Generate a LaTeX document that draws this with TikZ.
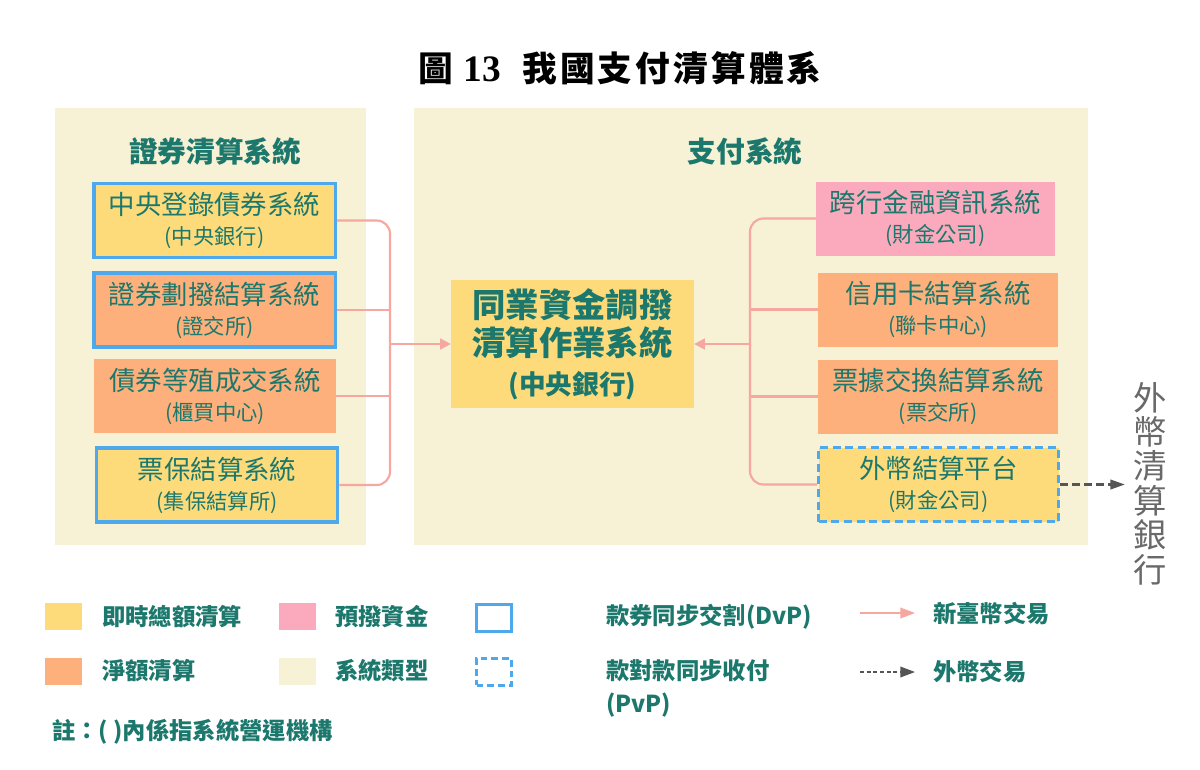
\documentclass[tikz,border=0pt]{standalone}
\usepackage{fontspec}
\usetikzlibrary{arrows.meta}
\newfontfamily\cjk{Noto Sans CJK TC}
\newfontfamily\cjkt{Noto Sans CJK TC}[LetterSpace=9]
\newfontfamily\sernum{Liberation Serif}
\definecolor{panelbg}{RGB}{247,241,213}
\definecolor{yel}{RGB}{253,219,123}
\definecolor{ora}{RGB}{253,176,123}
\definecolor{pnk}{RGB}{250,170,188}
\definecolor{blu}{RGB}{78,169,236}
\definecolor{tealtxt}{RGB}{28,120,108}
\definecolor{connc}{RGB}{246,168,160}
\definecolor{grc}{RGB}{85,85,85}
\definecolor{fxgray}{RGB}{105,105,105}
\newcommand\subline[1]{{\fontsize{16}{22.5}\selectfont #1}}
\tikzset{
  panel/.style={fill=panelbg, draw=none},
  ptitle/.style={text=tealtxt, font=\cjk\bfseries\fontsize{21.5}{24}\selectfont, inner sep=0},
  sysbox/.style={minimum width=181pt, minimum height=55.5pt, inner sep=0, align=center,
     text=tealtxt, font=\cjk\fontsize{19.8}{22.5}\selectfont},
  dvp/.style={draw=blu, line width=2.5pt},
  pvp/.style={draw=blu, line width=2.5pt, dash pattern=on 6pt off 3.5pt},
  conn/.style={draw=connc, line width=1.6pt},
  connarrow/.style={conn, -{Triangle[length=8pt,width=8pt]}},
  fxarrow/.style={draw=grc, line width=2pt, dash pattern=on 5.5pt off 3.5pt, -{Triangle[length=11pt,width=7pt]}},
  legsq/.style={minimum width=27.75pt, minimum height=20.25pt, inner sep=0},
  legtxt/.style={anchor=west, text=tealtxt, font=\cjk\bfseries\fontsize{17.5}{24.75}\selectfont, inner sep=0, align=left},
}
\begin{document}
\begin{tikzpicture}[x=0.75pt,y=-0.75pt]
\useasboundingbox (0,0) rectangle (1200,769);
% title
\node[inner sep=0] (title) at (620,68) {{\cjk\bfseries\fontsize{26}{30}\selectfont 圖}\hspace{8pt}{\sernum\bfseries\fontsize{28}{30}\selectfont 13}\hspace{16pt}{\cjkt\bfseries\fontsize{26}{30}\selectfont 我國支付清算體系}};
% panels
\fill[panel] (55,108) rectangle (366,545);
\fill[panel] (414,108) rectangle (1088,545);
\node[ptitle] (lt) at (215,152) {證券清算系統};
\node[ptitle] (rt) at (745,152) {支付系統};
% left boxes
\node[sysbox, fill=yel, dvp] (b1) at (214.5,220.5) {中央登錄債券系統\\\subline{(中央銀行)}};
\node[sysbox, fill=ora, dvp] (b2) at (214.5,310) {證券劃撥結算系統\\\subline{(證交所)}};
\node[sysbox, fill=ora] (b3) at (215,396) {債券等殖成交系統\\\subline{(櫃買中心)}};
\node[sysbox, fill=yel, dvp] (b4) at (217,485) {票保結算系統\\\subline{(集保結算所)}};
% central box
\node[minimum width=182pt, minimum height=96pt, inner sep=0, fill=yel, align=center, text=tealtxt,
  font=\cjk\bfseries\fontsize{25}{29}\selectfont] (cb) at (572.5,344)
  {同業資金調撥\\清算作業系統\\{\fontsize{20}{29}\selectfont (中央銀行)}};
% right boxes
\node[sysbox, fill=pnk, minimum width=179pt] (r1) at (935.5,218.5) {跨行金融資訊系統\\\subline{(財金公司)}};
\node[sysbox, fill=ora, minimum width=180pt] (r2) at (938,309.5) {信用卡結算系統\\\subline{(聯卡中心)}};
\node[sysbox, fill=ora, minimum width=180pt] (r3) at (938,396.5) {票據交換結算系統\\\subline{(票交所)}};
\node[sysbox, fill=yel, pvp, minimum width=180pt] (r4) at (938.5,484.5) {外幣結算平台\\\subline{(財金公司)}};
% bus coordinates
\coordinate (lx) at (390,344);
\coordinate (rx) at (750,344);
% left connectors
\draw[conn, rounded corners=10pt] (b1.east) -| (lx |- b4.east) -- (b4.east);
\draw[conn] (b2.east) -- (lx |- b2.east);
\draw[conn] (b3.east) -- (lx |- b3.east);
\draw[connarrow] (lx |- cb.west) -- (cb.west);
% right connectors
\draw[conn, rounded corners=10pt] (r1.west) -| (rx |- r4.west) -- (r4.west);
\draw[conn] (r2.west) -- (rx |- r2.west);
\draw[conn] (r3.west) -- (rx |- r3.west);
\draw[connarrow] (rx |- cb.east) -- (cb.east);
% foreign bank
\node[inner sep=0, align=center, text=fxgray, font=\cjk\fontsize{25}{25.8}\selectfont] (fxb) at (1150,483.5) {外\\幣\\清\\算\\銀\\行};
\draw[fxarrow] (r4.east) -- ([xshift=-6pt]r4.east -| fxb.west);
% legend
\node[legsq, fill=yel] (ly) at (63.5,616.5) {};
\node[legtxt] (lyt) at (102,616.5) {即時總額清算};
\node[legsq, fill=ora] (lo) at (63.5,671) {};
\node[legtxt] (lot) at (102,671) {淨額清算};
\node[legsq, fill=pnk] (lp) at (297,616.5) {};
\node[legtxt] (lpt) at (335,616.5) {預撥資金};
\node[legsq, fill=panelbg] (lc) at (297,671.5) {};
\node[legtxt] (lct) at (335,671) {系統類型};
\node[legsq, draw=blu, line width=2.2pt, minimum width=26pt, minimum height=20pt] (lb) at (494,618) {};
\node[legtxt] (lbt) at (606,617) {款券同步交割(DvP)};
\node[legsq, draw=blu, line width=2.2pt, dash pattern=on 5pt off 3pt, minimum width=26pt, minimum height=20pt] (ld) at (494,672) {};
\node[legtxt, anchor=north west] (ldt) at (606,659) {款對款同步收付\\(PvP)};
\coordinate (la1) at (860,613);
\coordinate (la2) at (915,613);
\draw[conn, line width=1.2pt, -{Triangle[length=11pt,width=8pt]}] (la1) -- (la2);
\node[legtxt] (lat) at (933,614) {新臺幣交易};
\coordinate (lg1) at (860,672);
\coordinate (lg2) at (915,672);
\draw[draw=grc, line width=1pt, dash pattern=on 3pt off 2pt, -{Triangle[length=11pt,width=8pt]}] (lg1) -- (lg2);
\node[legtxt] (lgt) at (933,672) {外幣交易};
\node[legtxt] (note) at (52,732) {註：( )內係指系統營運機構};
\end{tikzpicture}
\end{document}
